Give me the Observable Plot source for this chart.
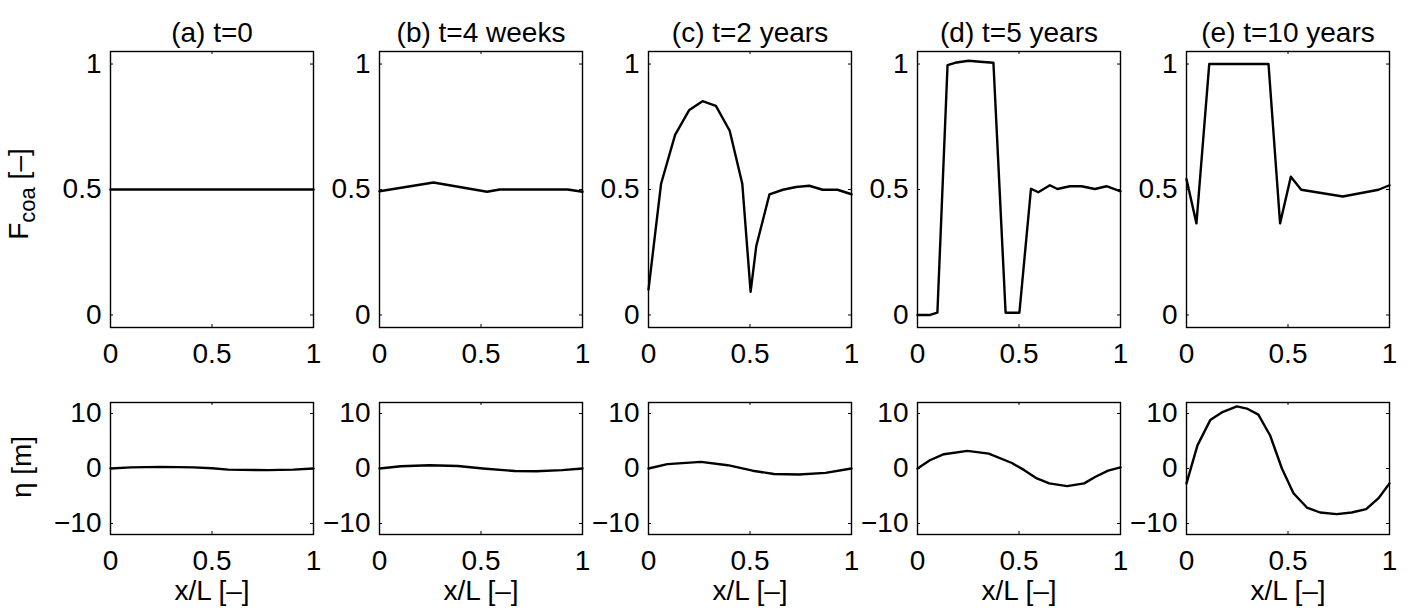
<!DOCTYPE html>
<html><head><meta charset="utf-8">
<script src="https://cdn.jsdelivr.net/npm/d3@7"></script>
<script src="https://cdn.jsdelivr.net/npm/@observablehq/plot@0.6"></script>
<style>
body{margin:0;background:#fff;}
#fig{position:relative;width:1412px;height:613px;background:#fff;overflow:hidden;font-family:"Liberation Sans",Arial,Helvetica,sans-serif;}
#fig svg{position:absolute;}
.ylab{position:absolute;font-size:28px;line-height:1;white-space:nowrap;color:#000;transform:translate(-50%,-50%) rotate(-90deg);}
.ylab sub{font-size:22px;vertical-align:-0.3em;}
</style></head><body><div id="fig"></div>
<script>
// ---- data ----
const titles = ["(a) t=0", "(b) t=4 weeks", "(c) t=2 years", "(d) t=5 years", "(e) t=10 years"];
const xTickVals = [0, 0.5, 1];
const fTickVals = [0, 0.5, 1];
const etaTickVals = [-10, 0, 10];
const xLabel = "x/L [–]";

// F_coa [-] profiles (top row)
const fX_a = [0, 0.5, 1];
const fY_a = [0.5, 0.5, 0.5];
const fX_b = [0, 0.266, 0.53, 0.592, 0.927, 1];
const fY_b = [0.493, 0.528, 0.491, 0.5, 0.5, 0.491];
const fX_c = [0, 0.062, 0.131, 0.201, 0.266, 0.332, 0.400, 0.462, 0.503, 0.531, 0.596, 0.662, 0.727, 0.792, 0.858, 0.931, 1];
const fY_c = [0.101, 0.523, 0.718, 0.817, 0.852, 0.833, 0.734, 0.523, 0.092, 0.275, 0.481, 0.499, 0.51, 0.515, 0.499, 0.499, 0.481];
const fX_d = [0, 0.062, 0.098, 0.148, 0.185, 0.251, 0.308, 0.374, 0.434, 0.502, 0.559, 0.595, 0.652, 0.689, 0.751, 0.808, 0.874, 0.931, 1];
const fY_d = [0, 0, 0.009, 0.996, 1.005, 1.013, 1.009, 1.005, 0.009, 0.009, 0.503, 0.489, 0.517, 0.502, 0.513, 0.513, 0.502, 0.513, 0.493];
const fX_e = [0, 0.049, 0.112, 0.404, 0.461, 0.514, 0.565, 0.770, 0.946, 1];
const fY_e = [0.541, 0.365, 1.0, 1.0, 0.365, 0.551, 0.499, 0.472, 0.499, 0.517];

// eta [m] profiles (bottom row)
const eX_a = [0, 0.1, 0.25, 0.41, 0.5, 0.58, 0.775, 0.9, 1];
const eY_a = [0, 0.2, 0.3, 0.2, 0.05, -0.2, -0.3, -0.2, 0];
const eX_b = [0, 0.105, 0.246, 0.386, 0.509, 0.667, 0.772, 0.9, 1];
const eY_b = [0, 0.4, 0.6, 0.45, 0, -0.45, -0.5, -0.3, 0];
const eX_c = [0, 0.093, 0.259, 0.39, 0.513, 0.618, 0.741, 0.872, 1];
const eY_c = [0, 0.8, 1.2, 0.6, -0.4, -1.0, -1.1, -0.8, 0];
const eX_d = [0, 0.061, 0.13, 0.246, 0.351, 0.465, 0.526, 0.588, 0.649, 0.737, 0.821, 0.877, 0.939, 1];
const eY_d = [0, 1.5, 2.6, 3.2, 2.7, 1.0, -0.3, -1.8, -2.7, -3.2, -2.7, -1.5, -0.4, 0.2];
const eX_e = [0, 0.054, 0.117, 0.174, 0.248, 0.297, 0.354, 0.412, 0.470, 0.527, 0.593, 0.658, 0.74, 0.814, 0.885, 0.946, 1];
const eY_e = [-2.7, 4.2, 8.8, 10.2, 11.3, 10.9, 9.8, 6.0, 0, -4.5, -7.1, -8.0, -8.3, -8.0, -7.4, -5.4, -2.7];

const fSeries = [[fX_a, fY_a], [fX_b, fY_b], [fX_c, fY_c], [fX_d, fY_d], [fX_e, fY_e]];
const eSeries = [[eX_a, eY_a], [eX_b, eY_b], [eX_c, eY_c], [eX_d, eY_d], [eX_e, eY_e]];

// ---- layout ----
const fig = document.getElementById("fig");
const FW = 203;           // frame width
const colStep = 269.1;
const firstLeft = 110;
const mL = 75, mR = 35;
const FS = 28;
const fmt = d => d === 0.5 ? "0.5" : d3.format("~g")(d).replace("-", "−");

function panel({xs, ys, yDomain, yTicks, title, showXLabel, frameTop, frameH, mT, mB, left}) {
  const data = xs.map((x, i) => ({x, y: ys[i]}));
  const marks = [
    Plot.frame({stroke: "black", strokeWidth: 1.4}),
    Plot.tickY(yTicks, {y: d => d, insetRight: FW - 3, stroke: "black", strokeWidth: 1}),
    Plot.tickY(yTicks, {y: d => d, insetLeft: FW - 3, stroke: "black", strokeWidth: 1}),
    Plot.tickX(xTickVals, {x: d => d, insetTop: frameH - 3, stroke: "black", strokeWidth: 1}),
    Plot.tickX(xTickVals, {x: d => d, insetBottom: frameH - 3, stroke: "black", strokeWidth: 1}),
    Plot.axisX({ticks: xTickVals, tickSize: 0, tickPadding: 16, tickFormat: fmt, label: null, fontSize: FS}),
    Plot.axisY({ticks: yTicks, tickSize: 0, tickPadding: 9, tickFormat: fmt, label: null, fontSize: FS}),
    Plot.line(data, {x: "x", y: "y", stroke: "black", strokeWidth: 2.4})
  ];
  if (title) marks.push(Plot.text([title], {frameAnchor: "top", dy: -29, fontSize: FS, fill: "black"}));
  if (showXLabel) marks.push(Plot.text([xLabel], {frameAnchor: "bottom", dy: 65, fontSize: FS, fill: "black"}));
  const svg = Plot.plot({
    width: mL + FW + mR,
    height: mT + frameH + mB,
    marginTop: mT, marginBottom: mB, marginLeft: mL, marginRight: mR,
    x: {domain: [0, 1]},
    y: {domain: yDomain},
    style: {background: "transparent", overflow: "visible", fontSize: FS + "px", fontFamily: '"Liberation Sans", Arial, Helvetica, sans-serif', color: "black"},
    marks
  });
  svg.style.left = (left - mL) + "px";
  svg.style.top = (frameTop - mT) + "px";
  fig.appendChild(svg);
}

for (let i = 0; i < 5; i++) {
  const left = firstLeft + i * colStep;
  panel({xs: fSeries[i][0], ys: fSeries[i][1], yDomain: [-0.05, 1.05], yTicks: fTickVals,
         title: titles[i], showXLabel: false, frameTop: 51, frameH: 276, mT: 51, mB: 45, left});
  panel({xs: eSeries[i][0], ys: eSeries[i][1], yDomain: [-12, 12], yTicks: etaTickVals,
         title: null, showXLabel: true, frameTop: 402, frameH: 132, mT: 12, mB: 79, left});
}

// y-axis labels
const yl1 = document.createElement("div");
yl1.className = "ylab";
yl1.style.left = "22px"; yl1.style.top = "194px";
yl1.innerHTML = "F<sub>coa</sub> [–]";
fig.appendChild(yl1);
const yl2 = document.createElement("div");
yl2.className = "ylab";
yl2.style.left = "22px"; yl2.style.top = "467px";
yl2.textContent = "η [m]";
fig.appendChild(yl2);
</script>
</body></html>
